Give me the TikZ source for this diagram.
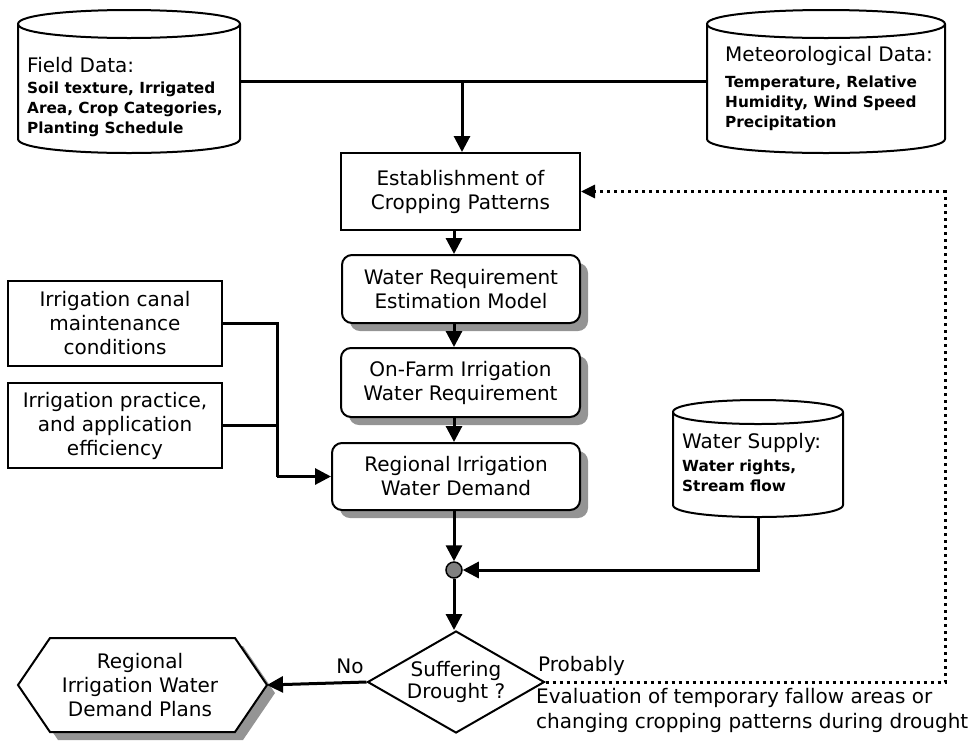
\documentclass[tikz,border=0pt]{standalone}
\usepackage{fontspec}
\setmainfont{DejaVu Sans}
\usetikzlibrary{arrows.meta,shadows,shapes.geometric}
\newcommand\mycyl[5]{%
  \draw[line width=2pt, fill=white] (#1,#3+#5) -- (#1,#4-#5)
    .. controls (#1,#4+#5/3) and (#2,#4+#5/3) .. (#2,#4-#5) -- (#2,#3+#5)
    .. controls (#2,#3-#5/3) and (#1,#3-#5/3) .. cycle;
  \draw[line width=2pt] (#1,#3+#5) .. controls (#1,#3+#5*7/3) and (#2,#3+#5*7/3) .. (#2,#3+#5);
}
\newcommand\ttlfont{\fontsize{20}{22}\selectfont\mdseries}
\newcommand\bdyfont{\fontsize{15.3}{20}\selectfont\bfseries}
\begin{document}
\begin{tikzpicture}[x=1pt,y=-1pt,
  box/.style={draw, line width=2pt, fill=white, align=center, font=\fontsize{20}{24}\selectfont, inner sep=0pt},
  rbox/.style={box, rounded corners=10pt, drop shadow={shadow xshift=8pt, shadow yshift=-8pt, fill=black!42, opacity=1}},
  conn/.style={line width=3pt},
  arr/.style={conn, -{Triangle[length=16pt,width=16pt]}},
  dotline/.style={line width=3pt, dash pattern=on 3pt off 4pt, -{Triangle[length=14pt,width=13pt]}},
  holder/.style={inner sep=0pt},
  cyltext/.style={inner sep=0pt, align=left, anchor=north west, font=\bdyfont},
  lbl/.style={inner sep=0pt, font=\fontsize{20}{25}\selectfont}
]
\useasboundingbox (0,0) rectangle (969,740);

% cylinders
\mycyl{18}{240}{10}{153}{14}
\mycyl{707}{945}{10}{153}{14}
\mycyl{673}{843}{400}{517}{12}
\node[holder, minimum width=222pt, minimum height=143pt] (fd) at (129,81.5) {};
\node[holder, minimum width=238pt, minimum height=143pt] (met) at (826,81.5) {};
\node[holder, minimum width=170pt, minimum height=117pt] (ws) at (758,458.5) {};

\node[cyltext] (fdt) at (27,57) {{\ttlfont Field Data:}\\[1pt]Soil texture, Irrigated\\Area, Crop Categories,\\Planting Schedule};
\node[cyltext] (mett) at (725,46) {{\ttlfont Meteorological Data:}\\[6pt]Temperature, Relative\\Humidity, Wind Speed\\Precipitation};
\node[cyltext] (wst) at (682,433) {{\ttlfont Water Supply:}\\[3pt]Water rights,\\Stream flow};

% main column
\node[box, minimum width=239pt, minimum height=77pt] (est) at (460.5,191.5) {Establishment of\\Cropping Patterns};
\node[rbox, minimum width=238pt, minimum height=68pt] (wre) at (461,289) {Water Requirement\\Estimation Model};
\node[rbox, minimum width=239pt, minimum height=69pt] (ofr) at (460.5,382.5) {On-Farm Irrigation\\Water Requirement};
\node[rbox, minimum width=248pt, minimum height=67pt] (reg) at (456,476.5) {Regional Irrigation\\Water Demand};

% left boxes
\node[box, minimum width=214pt, minimum height=85pt] (canal) at (115,323.5) {Irrigation canal\\maintenance\\conditions};
\node[box, minimum width=214pt, minimum height=85pt] (prac) at (115,425.5) {Irrigation practice,\\and application\\efficiency};

% junction circle
\node[circle, draw, line width=1.5pt, fill=black!50, minimum size=16pt, inner sep=0pt] (jc) at (454,570) {};

% decision
\node[diamond, draw, line width=2pt, fill=white, aspect=1.74, minimum width=177pt, minimum height=102pt, inner sep=0pt, align=center, font=\fontsize{20}{22}\selectfont] (dia) at (456,682) {Suffering\\Drought ?};

% hexagon
\fill[black!42, shift={(8,8)}] (18,685) -- (50,638) -- (235,638) -- (267,685) -- (235,732) -- (50,732) -- cycle;
\draw[line width=2pt, fill=white] (18,685) -- (50,638) -- (235,638) -- (267,685) -- (235,732) -- (50,732) -- cycle;
\node[holder, align=center, minimum width=249pt, minimum height=94pt, font=\fontsize{20}{24}\selectfont] (plan) at (140,685) {Regional\\Irrigation Water\\Demand Plans};

% labels
\node[lbl] (no) at (350,666) {No};
\node[lbl, anchor=west] (prob) at (538,666) {Probably};
\node[lbl, anchor=north west, align=left] (eval) at (536,688) {Evaluation of temporary fallow areas or\\changing cropping patterns during drought};

% connectors
\coordinate (j1) at (462,81.5);
\draw[conn] (fd.east) -- (met.west);
\draw[arr] (j1) -- (j1 |- est.north);
\coordinate (col) at (454,0);
\draw[arr] (est.south -| col) -- (wre.north -| col);
\draw[arr] (wre.south -| col) -- (ofr.north -| col);
\draw[arr] (ofr.south -| col) -- (reg.north -| col);
\draw[arr] (reg.south -| col) -- (jc.north);
\draw[arr] (jc.south) -- (dia.north -| jc);
\draw[arr] (ws.south) |- (jc.east);

\coordinate (lj) at (277,476.5);
\draw[conn] (canal.east) -| (lj);
\draw[conn] (prac.east) -- (prac.east -| lj);
\draw[arr] (lj) -- (reg.west);

\draw[arr] (dia.west) -- (267,685);

\coordinate (dc1) at (945,682);
\coordinate (dc2) at (945,191.5);
\draw[dotline] (dia.east) -- (dc1) -- (dc2) -- (est.east);
\end{tikzpicture}
\end{document}
